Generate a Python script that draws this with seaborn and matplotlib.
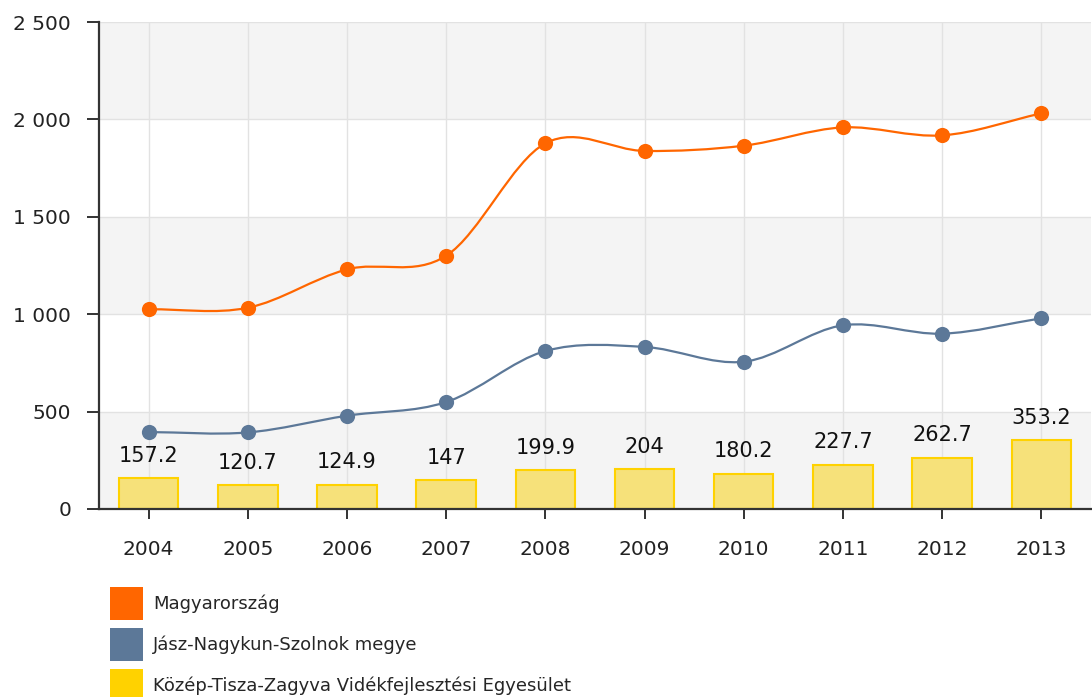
"""Magyarország / Jász-Nagykun-Szolnok / Közép-Tisza-Zagyva chart -> out.png"""
import matplotlib
matplotlib.use("Agg")
import matplotlib.pyplot as plt
import matplotlib.ticker as mticker
from matplotlib.path import Path
from matplotlib.patches import PathPatch, Patch
import seaborn as sns
import numpy as np

years = ["2004", "2005", "2006", "2007", "2008", "2009", "2010", "2011", "2012", "2013"]
magyarorszag = [1025, 1033, 1230, 1300, 1877, 1838, 1865, 1959, 1918, 2031]
jasz = [395, 393, 479, 549, 811, 832, 756, 943, 900, 979]
egyesulet = [157.2, 120.7, 124.9, 147, 199.9, 204, 180.2, 227.7, 262.7, 353.2]
series_names = ["Magyarország", "Jász-Nagykun-Szolnok megye",
                "Közép-Tisza-Zagyva Vidékfejlesztési Egyesület"]

ORANGE = "#FF6600"
BLUE = "#5C7898"
GOLD = "#FFD200"
BAR_FILL = "#F6E17A"
DARK = "#333333"

sns.set_theme(style="white")
plt.rcParams["font.family"] = ["DejaVu Sans"]


def smooth_path(xs, ys):
    # cubic bezier through the points (catmull-rom style tangents)
    pts = np.column_stack([xs, ys]).astype(float)
    n = len(pts)
    tang = np.zeros_like(pts)
    for i in range(n):
        a = pts[max(i - 1, 0)]
        b = pts[min(i + 1, n - 1)]
        tang[i] = (b - a) / (2 if 0 < i < n - 1 else 1)
    verts, codes = [pts[0]], [Path.MOVETO]
    for i in range(n - 1):
        verts += [pts[i] + tang[i] / 3, pts[i + 1] - tang[i + 1] / 3, pts[i + 1]]
        codes += [Path.CURVE4] * 3
    return Path(verts, codes)


fig = plt.figure(figsize=(10.92, 6.97), dpi=100)
ax = fig.add_axes([99 / 1092, 1 - 509 / 697, 1 - 99 / 1092 - 0.001, (509 - 22) / 697])

# alternating background bands
for lo in (0, 1000, 2000):
    ax.axhspan(lo, lo + 500, color="#F4F4F4", zorder=0, lw=0)

sns.barplot(x=years, y=egyesulet, color=BAR_FILL, saturation=1, width=0.6,
            edgecolor=GOLD, linewidth=1.5, ax=ax, zorder=2)
ax.bar_label(ax.containers[0], labels=[f"{v:g}" for v in egyesulet],
             padding=9, fontsize=15, color="#111111")

xpos = np.arange(len(years))
for vals, col in ((magyarorszag, ORANGE), (jasz, BLUE)):
    ax.add_patch(PathPatch(smooth_path(xpos, vals), fill=False, edgecolor=col,
                           lw=1.6, zorder=3))
    sns.scatterplot(x=xpos, y=vals, color=col, s=120, edgecolor=col,
                    linewidth=0, ax=ax, zorder=4)

ax.set_xlim(-0.5, len(years) - 0.5)
ax.set_ylim(0, 2500)
ax.yaxis.set_major_locator(mticker.MultipleLocator(500))
ax.yaxis.set_major_formatter(
    mticker.FuncFormatter(lambda v, _: f"{int(v):,}".replace(",", " ")))
ax.grid(True, color="#E2E2E2", lw=1)
ax.set_axisbelow(True)
ax.set_xlabel("")
ax.set_ylabel("")

for s in ("top", "right"):
    ax.spines[s].set_visible(False)
for s in ("left", "bottom"):
    ax.spines[s].set_color(DARK)
    ax.spines[s].set_linewidth(1.6)
ax.tick_params(axis="y", direction="out", length=9, width=1.4, color=DARK,
               pad=11, labelsize=14.5, labelcolor="#222222", left=True)
ax.tick_params(axis="x", direction="out", length=7, width=1.4, color=DARK,
               pad=15, labelsize=14.5, labelcolor="#222222", bottom=True)

handles = [Patch(facecolor=c, edgecolor="none") for c in (ORANGE, BLUE, GOLD)]
fig.legend(handles, series_names, loc="upper left",
           bbox_to_anchor=(110 / 1092, 1 - 587 / 697), frameon=False,
           fontsize=13, handlelength=1.8, handleheight=2.44, handletextpad=0.6,
           labelspacing=0.44, borderpad=0, borderaxespad=0)

fig.savefig("out.png", dpi=100)
